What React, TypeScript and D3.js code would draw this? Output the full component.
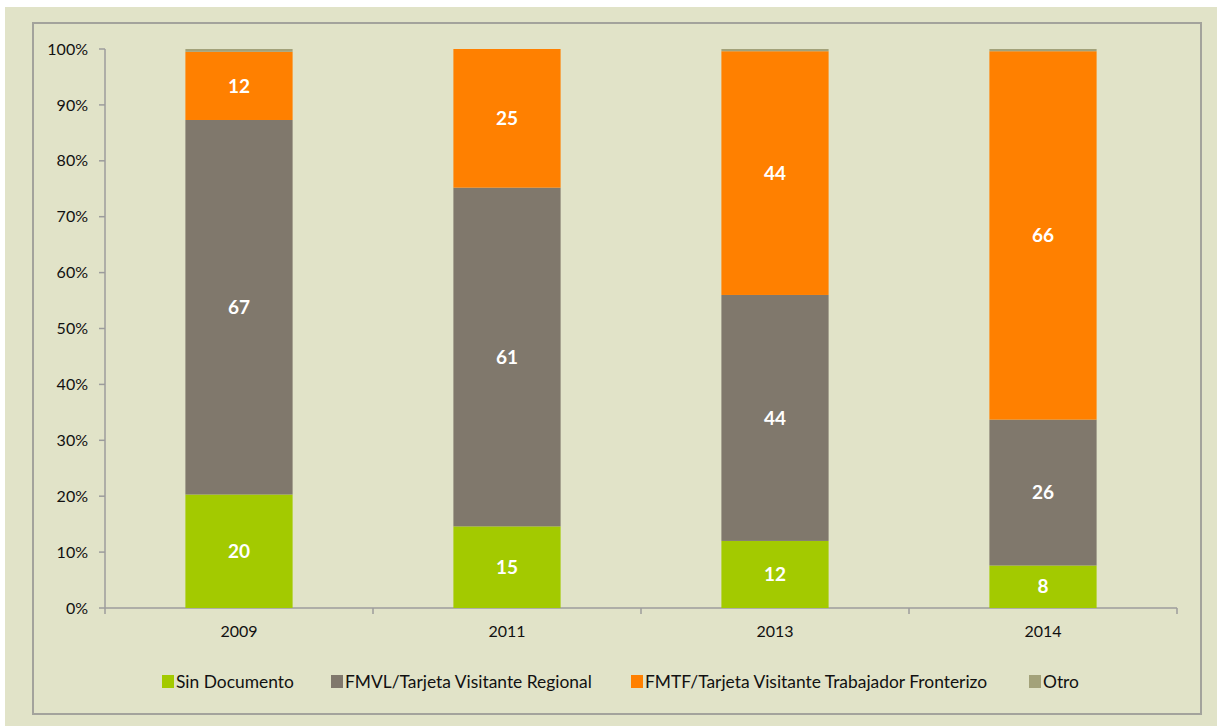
import React from 'react';
import * as d3 from 'd3';

const years = ['2009', '2011', '2013', '2014'];
const series = [
  'Sin Documento',
  'FMVL/Tarjeta Visitante Regional',
  'FMTF/Tarjeta Visitante Trabajador Fronterizo',
  'Otro',
];
const sinDocumento = [20.3, 14.6, 12.0, 7.6];
const fmvl = [67.0, 60.6, 44.0, 26.1];
const fmtf = [12.2, 24.8, 43.6, 65.9];
const otro = [0.5, 0.0, 0.4, 0.4];
const yTicks = [0, 10, 20, 30, 40, 50, 60, 70, 80, 90, 100];

const colors = ['#A3CA00', '#80786C', '#FF8000', '#A3A27A'];
const font = 'Lato, "Open Sans", sans-serif';

const W = 1217;
const H = 726;
const margin = { left: 105, right: 40, top: 49, bottom: 118 };

const App = () => {
  const x = d3.scaleBand()
    .domain(years)
    .range([margin.left, W - margin.right])
    .paddingInner(0.6)
    .paddingOuter(0.3);
  const y = d3.scaleLinear()
    .domain([0, 100])
    .range([H - margin.bottom, margin.top]);

  const rows = years.map((yr, i) => ({
    year: yr,
    'Sin Documento': sinDocumento[i],
    'FMVL/Tarjeta Visitante Regional': fmvl[i],
    'FMTF/Tarjeta Visitante Trabajador Fronterizo': fmtf[i],
    Otro: otro[i],
  }));
  const stacked = d3.stack().keys(series)(rows as any);

  const x0 = margin.left;
  const x1 = W - margin.right;
  const boundaries = years.map((_, i) => x0 + i * (x1 - x0) / years.length).concat([x1]);

  // legend layout
  const legendX = [162, 331, 631, 1029];
  const legendY = 682;

  return (
    <svg width={W} height={H} style={{ position: 'absolute', left: 0, top: 0 }}>
      <rect x={0} y={0} width={W} height={H} fill="#ffffff" />
      <rect x={5} y={7} width={W - 5} height={H - 7} fill="#E1E3C8" />
      <rect x={33} y={23} width={1168} height={691} fill="none" stroke="#A3A39C" strokeWidth={2} />

      {/* y axis */}
      <line x1={margin.left} x2={margin.left} y1={y(100)} y2={y(0)} stroke="#9C9C9C" strokeWidth={1.5} />
      {yTicks.map(t => (
        <g key={t}>
          <line x1={margin.left - 6} x2={margin.left} y1={y(t)} y2={y(t)} stroke="#9C9C9C" strokeWidth={1.5} />
          <text x={margin.left - 17} y={y(t)} dy="0.35em" textAnchor="end" fontFamily={font} fontSize={16} fill="#111111">
            {t + '%'}
          </text>
        </g>
      ))}

      {/* x axis */}
      <line x1={x0} x2={x1} y1={y(0)} y2={y(0)} stroke="#9C9C9C" strokeWidth={1.5} />
      {boundaries.map((b, i) => (
        <line key={i} x1={b} x2={b} y1={y(0)} y2={y(0) + 6} stroke="#9C9C9C" strokeWidth={1.5} />
      ))}
      {years.map(yr => (
        <text key={yr} x={(x(yr) ?? 0) + x.bandwidth() / 2} y={y(0) + 29} textAnchor="middle" fontFamily={font} fontSize={16} fill="#111111">
          {yr}
        </text>
      ))}

      {/* bars */}
      {stacked.map((layer, si) => (
        <g key={layer.key} fill={colors[si]}>
          {layer.map((d, i) => (
            <rect
              key={i}
              x={x(years[i])}
              y={y(d[1])}
              width={x.bandwidth()}
              height={Math.max(0, y(d[0]) - y(d[1]))}
            />
          ))}
        </g>
      ))}

      {/* labels */}
      {stacked.slice(0, 3).map(layer => (
        <g key={layer.key}>
          {layer.map((d, i) => (
            <text
              key={i}
              x={(x(years[i]) ?? 0) + x.bandwidth() / 2}
              y={y((d[0] + d[1]) / 2)}
              dy="0.35em"
              textAnchor="middle"
              fontFamily={font}
              fontWeight="bold"
              fontSize={19}
              fill="#ffffff"
            >
              {Math.round(d[1] - d[0])}
            </text>
          ))}
        </g>
      ))}

      {/* legend */}
      {series.map((s, i) => (
        <g key={s} transform={`translate(${legendX[i]},${legendY})`}>
          <rect x={0} y={-7} width={12} height={13} fill={colors[i]} />
          <text x={14} y={0} dy="0.35em" fontFamily={font} fontSize={17.4} fill="#111111">{s}</text>
        </g>
      ))}
    </svg>
  );
};

export default App;
